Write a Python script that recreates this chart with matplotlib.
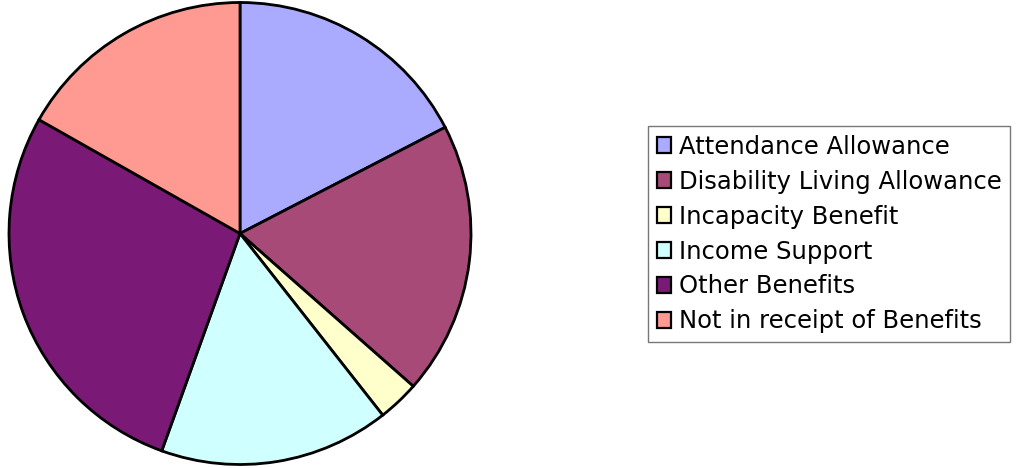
import matplotlib
matplotlib.use("Agg")
import matplotlib.pyplot as plt
from matplotlib.patches import Patch

# --- DATA ---
categories = [
    "Attendance Allowance",
    "Disability Living Allowance",
    "Incapacity Benefit",
    "Income Support",
    "Other Benefits",
    "Not in receipt of Benefits",
]
shares = [17.4, 19.1, 2.9, 16.1, 27.7, 16.8]
colours = ["#AAAAFF", "#A84A78", "#FFFFCC", "#D0FFFF", "#7A1A76", "#FF9A92"]

# --- FIGURE ---
fig = plt.figure(figsize=(10.2, 4.68), dpi=100)
R_PX, CX, CY = 231, 240, 233.5
LIM = 1.01
side = 2 * R_PX * LIM
ax = fig.add_axes([(CX - side / 2) / 1020, (468 - CY - side / 2) / 468,
                   side / 1020, side / 468])

ax.pie(shares, colors=colours, startangle=90, counterclock=False,
       radius=1.0, wedgeprops=dict(edgecolor="black", linewidth=2.0))
ax.set_xlim(-LIM, LIM)
ax.set_ylim(-LIM, LIM)
ax.set_aspect("equal")
ax.axis("off")

handles = [Patch(facecolor=c, edgecolor="black", linewidth=1.6) for c in colours]
leg = fig.legend(handles, categories, loc="upper left",
                 bbox_to_anchor=(648 / 1020, 1 - 126 / 468),
                 frameon=True, fancybox=False, shadow=False,
                 fontsize=17.5, handlelength=0.6, handleheight=0.6,
                 handletextpad=0.3, labelspacing=0.45, borderpad=0.36,
                 borderaxespad=0)
leg.get_frame().set_edgecolor("#555555")
leg.get_frame().set_linewidth(1.0)

fig.savefig("out.png", dpi=100)
